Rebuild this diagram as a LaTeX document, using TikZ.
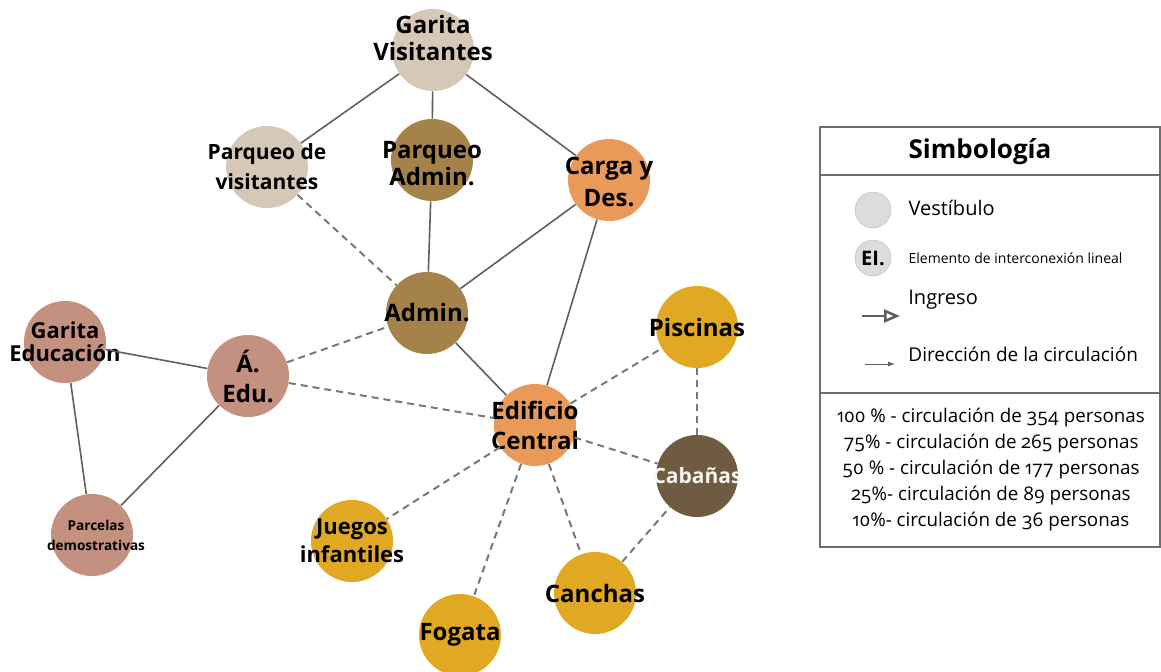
\documentclass[tikz,border=0pt]{standalone}
\usepackage{fontspec}
\setmainfont{Open Sans}
\usetikzlibrary{arrows.meta, positioning}
\definecolor{vestbeige}{RGB}{214,200,182}
\definecolor{adminbrown}{RGB}{164,130,74}
\definecolor{centerorange}{RGB}{233,154,88}
\definecolor{edurose}{RGB}{196,144,127}
\definecolor{activegold}{RGB}{225,169,35}
\definecolor{cabinbrown}{RGB}{110,91,66}
\definecolor{linkgray}{RGB}{95,95,95}
\definecolor{dashgray}{RGB}{120,120,120}
\definecolor{framegray}{RGB}{110,110,110}
\definecolor{keygray}{RGB}{220,220,220}

\begin{document}
\begin{tikzpicture}[
  x=0.5pt, y=-0.5pt,
  bubble/.style={circle, minimum size=41pt, inner sep=0pt, fill=#1},
  txt/.style={font=\bfseries\fontsize{12}{13.5}\selectfont, align=center, text=black},
  small/.style={txt, font=\bfseries\fontsize{10.5}{15}\selectfont},
  link/.style={draw=linkgray, line width=0.8pt},
  weak/.style={draw=dashgray, line width=1pt, dash pattern=on 3.5pt off 2.5pt},
  frame/.style={draw=framegray, line width=0.7pt},
  keydot/.style={circle, minimum size=18pt, inner sep=0pt, fill=keygray, draw=keygray!85!black, line width=0.2pt},
  keytxt/.style={font=\fontsize{10}{12}\selectfont, inner sep=1pt, anchor=west},
]
\useasboundingbox (0,0) rectangle (1161,671);

% Access zone
\node[bubble=vestbeige, label={[txt, yshift=6pt]center:Garita\\Visitantes}] (gvis) at (433,50) {};
\node[bubble=vestbeige, label={[small]center:Parqueo de\\visitantes}] (pvis) at (267,167) {};
\node[bubble=adminbrown, label={[txt, yshift=-2pt]center:Parqueo\\Admin.}] (padm) at (432,160) {};
\node[bubble=centerorange, label={[txt, font=\bfseries\fontsize{12}{16}\selectfont, yshift=-1pt]center:Carga y\\Des.}] (carga) at (609,180) {};
\node[bubble=adminbrown, label={[txt]center:Admin.}] (admin) at (427,313) {};

% Education zone
\node[bubble=edurose, label={[txt, font=\bfseries\fontsize{12}{15}\selectfont]center:Á.\\Edu.}] (aedu) at (248,376) {};
\node[bubble=edurose, label={[txt, font=\bfseries\fontsize{11}{11.5}\selectfont]center:Garita\\Educación}] (gedu) at (65,342) {};
\node[bubble=edurose, label={[txt, font=\bfseries\fontsize{6.8}{10}\selectfont, xshift=2pt]center:Parcelas\\demostrativas}] (parc) at (92,535) {};

% Central building and activities
\node[bubble=centerorange, label={[txt, font=\bfseries\fontsize{12}{15}\selectfont]center:Edificio\\Central}] (cent) at (535,425) {};
\node[bubble=activegold, label={[txt]center:Piscinas}] (pisc) at (697,327) {};
\node[bubble=cabinbrown, label={[txt, font=\bfseries\fontsize{10.5}{12}\selectfont, text=white!92!brown]center:Cabañas}] (cab) at (697,476) {};
\node[bubble=activegold, label={[txt, font=\bfseries\fontsize{11}{14}\selectfont]center:Juegos\\infantiles}] (jueg) at (352,541) {};
\node[bubble=activegold, label={[txt]center:Canchas}] (canch) at (595,593) {};
\node[bubble=activegold, label={[txt]center:Fogata}] (fog) at (460,635) {};

% Links
\draw[link] (gvis) -- (pvis);
\draw[link] (gvis) -- (padm);
\draw[link] (gvis) -- (carga);
\draw[link] (padm) -- (admin);
\draw[link] (carga) -- (admin);
\draw[link] (carga) -- (cent);
\draw[link] (admin) -- (cent);
\draw[link] (gedu) -- (aedu);
\draw[link] (gedu) -- (parc);
\draw[link] (aedu) -- (parc);
\draw[weak] (pvis) -- (admin);
\draw[weak] (aedu) -- (admin);
\draw[weak] (aedu) -- (cent);
\draw[weak] (cent) -- (pisc);
\draw[weak] (pisc) -- (cab);
\draw[weak] (cent) -- (cab);
\draw[weak] (cent) -- (jueg);
\draw[weak] (cent) -- (fog);
\draw[weak] (cent) -- (canch);
\draw[weak] (canch) -- (cab);

% Legend
\draw[frame] (820,127) rectangle (1160,547);
\draw[frame] (820,175) -- (1160,175);
\draw[frame] (820,393) -- (1160,393);
\node[font=\bfseries\fontsize{13}{15}\selectfont] (simb) at (980,152) {Simbología};

\node[keydot] (kvest) at (873,210) {};
\node[keytxt, right=7.5pt of kvest, yshift=1pt] (tvest) {Vestíbulo};
\node[keydot, font=\bfseries\fontsize{10}{12}\selectfont] (kei) at (873,258) {EI.};
\node[keytxt, right=7.5pt of kei, font=\fontsize{7}{9}\selectfont] (tei) {Elemento de interconexión lineal};

\coordinate (ing-a) at (862,316);
\coordinate (ing-b) at (900,316);
\draw[draw=linkgray, line width=1.3pt, -{Triangle[open, length=8pt, width=6.5pt]}] (ing-a) -- (ing-b);
\node[keytxt] (ting) at (906,300) {Ingreso};

\coordinate (dir-a) at (865,364);
\coordinate (dir-b) at (895,364);
\draw[draw=linkgray, line width=0.5pt, -{Latex[length=3.5pt, width=2.5pt]}] (dir-a) -- (dir-b);
\node[keytxt, font=\fontsize{9.5}{12}\selectfont] (tdir) at (906,354) {Dirección de la circulación};

\node[align=center, font=\addfontfeatures{Numbers=OldStyle}\fontsize{9.4}{13}\selectfont] (stats) at (991,470)
  {100 \% - circulación de 354 personas\\
   75\% - circulación de 265 personas\\
   50 \% - circulación de 177 personas\\
   25\%- circulación de 89 personas\\
   10\%- circulación de 36 personas};
\end{tikzpicture}
\end{document}
